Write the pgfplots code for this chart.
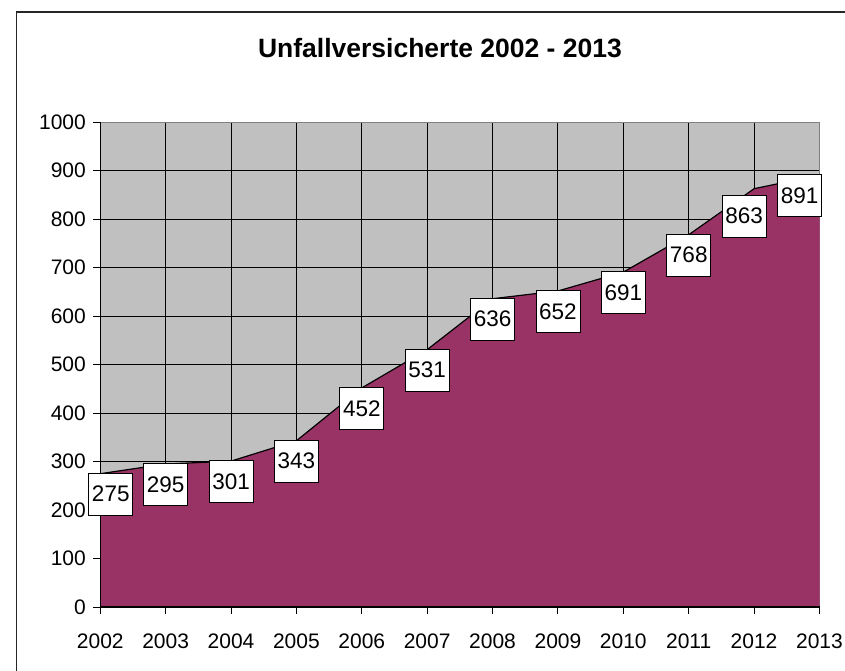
\documentclass[border=0pt]{standalone}
\usepackage{fontspec}
\setmainfont{Liberation Sans}
\usepackage{pgfplots}
\pgfplotsset{compat=1.18}
\definecolor{areafill}{HTML}{993366}
\definecolor{plotbg}{HTML}{C0C0C0}
\definecolor{plotborder}{HTML}{808080}
\begin{document}
\begin{tikzpicture}[x=1bp,y=1bp]
\useasboundingbox (0,0) rectangle (845,671);
\draw[line width=1.5bp,black!85] (16.5,-10) -- (16.5,659) -- (860,659);
\node[anchor=base,font=\bfseries\fontsize{26.5bp}{31bp}\selectfont] at (440,613.5) {Unfallversicherte 2002 - 2013};
\begin{axis}[
  at={(100.3bp,64bp)}, anchor=south west,
  scale only axis, width=719.2bp, height=484.7bp,
  xmin=2002, xmax=2013, ymin=0, ymax=1000,
  xtick={2002,...,2013}, ytick={0,100,...,1000},
  /pgf/number format/1000 sep={},
  /pgf/number format/assume math mode=true,
  tick label style={font=\fontsize{21bp}{25bp}\selectfont},
  xtick pos=left, ytick pos=left,
  tick align=outside, major tick length=7bp,
  tick style={black, line width=0.9bp},
  grid=major, major grid style={black, line width=0.9bp},
  axis line style={plotborder, line width=1.2bp},
  axis background/.style={fill=plotbg},
  xticklabel style={yshift=-16bp},
  yticklabel style={xshift=-4bp},
  clip=false,
]
\addplot[fill=areafill, draw=none] coordinates {
(2002,275) (2003,295) (2004,301) (2005,343) (2006,452) (2007,531)
(2008,636) (2009,652) (2010,691) (2011,768) (2012,863) (2013,891)} \closedcycle;
\addplot[black, line width=1.2bp,
  visualization depends on={value \coordindex \as \myidx},
  nodes near coords,
  nodes near coords align={below},
  every node near coord/.append style={
    anchor=north, inner sep=0pt, minimum width=44bp, minimum height=42bp,
    fill=white, draw=black, line width=0.9bp,
    font=\fontsize{22.5bp}{26bp}\selectfont,
    xshift={ifthenelse(\myidx==0,10.5,ifthenelse(\myidx==10,-10,ifthenelse(\myidx==11,-20,0)))},
    yshift={ifthenelse(\myidx==10,-7,0)+1}
  },
] coordinates {
(2002,275) (2003,295) (2004,301) (2005,343) (2006,452) (2007,531)
(2008,636) (2009,652) (2010,691) (2011,768) (2012,863) (2013,891)};
\draw[black, line width=1.2bp] (rel axis cs:0,1) -- (rel axis cs:0,0) -- (rel axis cs:1,0);
\end{axis}
\end{tikzpicture}
\end{document}
